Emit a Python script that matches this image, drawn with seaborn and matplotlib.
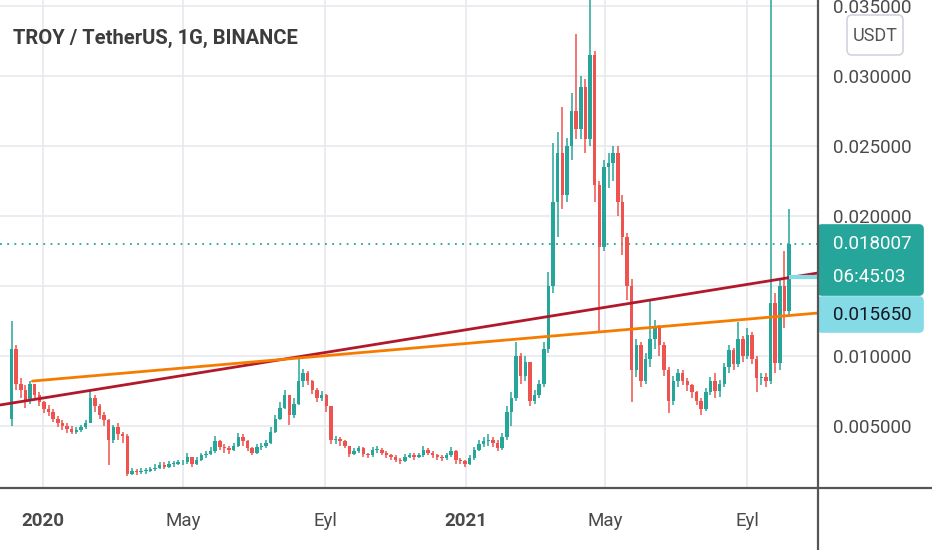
import pandas as pd
import numpy as np
import matplotlib
matplotlib.use("Agg")
import matplotlib.pyplot as plt
import matplotlib.dates as mdates
from matplotlib.patches import FancyBboxPatch
from matplotlib.lines import Line2D
import seaborn as sns

# --- data (4-day candles) ---
title = "TROY / TetherUS, 1G, BINANCE"
first_open = 0.0055
start_day = "2019-12-05"
candle_days = 4

closes = [
    0.0105, 0.0080, 0.0076, 0.0068, 0.0080, 0.0072, 0.0067, 0.0062, 0.0060, 0.0055,
    0.0052, 0.0050, 0.0048, 0.0046, 0.0047, 0.0049, 0.0052, 0.0070, 0.0064, 0.0058,
    0.0054, 0.0040, 0.0049, 0.0044, 0.0043, 0.0016, 0.0018, 0.0017, 0.0018, 0.0018,
    0.0019, 0.0020, 0.0022, 0.0021, 0.0023, 0.0023, 0.0024, 0.0024, 0.0028, 0.0023,
    0.0026, 0.0029, 0.0030, 0.0032, 0.0039, 0.0035, 0.0034, 0.0033, 0.0036, 0.0042,
    0.0039, 0.0034, 0.0031, 0.0035, 0.0036, 0.0038, 0.0046, 0.0055, 0.0063, 0.0072,
    0.0058, 0.0066, 0.0082, 0.0088, 0.0082, 0.0076, 0.0070, 0.0072, 0.0064, 0.0040,
    0.0041, 0.0039, 0.0036, 0.0030, 0.0032, 0.0034, 0.0030, 0.0029, 0.0033, 0.0033,
    0.0031, 0.0029, 0.0028, 0.0026, 0.0025, 0.0028, 0.0029, 0.0028, 0.0029, 0.0033,
    0.0031, 0.0029, 0.0028, 0.0027, 0.0029, 0.0032, 0.0026, 0.0025, 0.0023, 0.0027,
    0.0033, 0.0037, 0.0039, 0.0040, 0.0038, 0.0034, 0.0042, 0.0060, 0.0070, 0.0100,
    0.0086, 0.0096, 0.0068, 0.0072, 0.0080, 0.0105, 0.0150, 0.0210, 0.0245, 0.0215,
    0.0250, 0.0275, 0.0262, 0.0292, 0.0255, 0.0315, 0.0222, 0.0178, 0.0235, 0.0238,
    0.0245, 0.0210, 0.0185, 0.0150, 0.0090, 0.0108, 0.0082, 0.0098, 0.0112, 0.0120,
    0.0108, 0.0090, 0.0068, 0.0082, 0.0088, 0.0082, 0.0079, 0.0074, 0.0068, 0.0062,
    0.0074, 0.0082, 0.0075, 0.0080, 0.0092, 0.0104, 0.0094, 0.0112, 0.0100, 0.0115,
    0.0098, 0.0084, 0.0085, 0.0082, 0.0138, 0.0095, 0.0150, 0.0132, 0.018007,
]
highs = [
    0.0125, 0.0108, 0.0084, 0.0079, 0.0082, 0.0080, 0.0074, 0.0068, 0.0065, 0.0062,
    0.0057, 0.0054, 0.0052, 0.0050, 0.0049, 0.0051, 0.0054, 0.0075, 0.0072, 0.0066,
    0.0060, 0.0055, 0.0051, 0.0052, 0.0046, 0.0044, 0.0020, 0.0019, 0.0020, 0.0020,
    0.0021, 0.0023, 0.0024, 0.0024, 0.0025, 0.0025, 0.0026, 0.0026, 0.0031, 0.0028,
    0.0028, 0.0031, 0.0032, 0.0035, 0.0043, 0.0040, 0.0037, 0.0036, 0.0038, 0.0045,
    0.0044, 0.0040, 0.0035, 0.0037, 0.0038, 0.0040, 0.0049, 0.0058, 0.0067, 0.0076,
    0.0072, 0.0070, 0.0099, 0.0091, 0.0089, 0.0083, 0.0077, 0.0075, 0.0073, 0.0064,
    0.0043, 0.0042, 0.0040, 0.0036, 0.0034, 0.0036, 0.0035, 0.0031, 0.0035, 0.0036,
    0.0034, 0.0032, 0.0030, 0.0029, 0.0027, 0.0030, 0.0031, 0.0031, 0.0031, 0.0036,
    0.0034, 0.0032, 0.0030, 0.0029, 0.0031, 0.0035, 0.0033, 0.0027, 0.0026, 0.0029,
    0.0035, 0.0040, 0.0042, 0.0044, 0.0042, 0.0040, 0.0045, 0.0064, 0.0074, 0.0110,
    0.0102, 0.0100, 0.0095, 0.0076, 0.0083, 0.0110, 0.0160, 0.0252, 0.0260, 0.0278,
    0.0256, 0.0288, 0.0330, 0.0300, 0.0298, 0.0400, 0.0318, 0.0225, 0.0240, 0.0245,
    0.0250, 0.0250, 0.0215, 0.0188, 0.0155, 0.0112, 0.0110, 0.0102, 0.0139, 0.0126,
    0.0122, 0.0110, 0.0092, 0.0086, 0.0091, 0.0090, 0.0084, 0.0080, 0.0075, 0.0070,
    0.0077, 0.0085, 0.0088, 0.0083, 0.0095, 0.0108, 0.0106, 0.0124, 0.0114, 0.0120,
    0.0117, 0.0100, 0.0088, 0.0088, 0.0400, 0.0145, 0.0155, 0.0175, 0.0205,
]
lows = [
    0.0050, 0.0076, 0.0070, 0.0063, 0.0066, 0.0070, 0.0064, 0.0059, 0.0057, 0.0053,
    0.0049, 0.0047, 0.0045, 0.0044, 0.0044, 0.0046, 0.0048, 0.0052, 0.0060, 0.0055,
    0.0050, 0.0022, 0.0038, 0.0040, 0.0038, 0.0014, 0.0015, 0.0015, 0.0016, 0.0016,
    0.0017, 0.0018, 0.0019, 0.0019, 0.0020, 0.0021, 0.0022, 0.0022, 0.0023, 0.0021,
    0.0022, 0.0025, 0.0027, 0.0029, 0.0031, 0.0033, 0.0031, 0.0030, 0.0032, 0.0035,
    0.0036, 0.0032, 0.0029, 0.0030, 0.0033, 0.0034, 0.0037, 0.0045, 0.0054, 0.0062,
    0.0051, 0.0056, 0.0065, 0.0078, 0.0079, 0.0073, 0.0067, 0.0068, 0.0060, 0.0037,
    0.0037, 0.0036, 0.0034, 0.0028, 0.0029, 0.0031, 0.0028, 0.0027, 0.0028, 0.0031,
    0.0029, 0.0027, 0.0026, 0.0024, 0.0023, 0.0024, 0.0027, 0.0026, 0.0027, 0.0028,
    0.0029, 0.0027, 0.0026, 0.0025, 0.0026, 0.0028, 0.0023, 0.0023, 0.0021, 0.0022,
    0.0026, 0.0032, 0.0035, 0.0036, 0.0035, 0.0032, 0.0033, 0.0040, 0.0050, 0.0068,
    0.0080, 0.0082, 0.0064, 0.0066, 0.0070, 0.0078, 0.0102, 0.0145, 0.0185, 0.0205,
    0.0210, 0.0240, 0.0255, 0.0255, 0.0245, 0.0250, 0.0210, 0.0118, 0.0175, 0.0220,
    0.0225, 0.0200, 0.0172, 0.0140, 0.0067, 0.0085, 0.0078, 0.0080, 0.0092, 0.0105,
    0.0100, 0.0086, 0.0059, 0.0065, 0.0078, 0.0079, 0.0075, 0.0070, 0.0065, 0.0058,
    0.0061, 0.0072, 0.0070, 0.0071, 0.0078, 0.0088, 0.0090, 0.0092, 0.0096, 0.0098,
    0.0094, 0.0074, 0.0079, 0.0078, 0.0080, 0.0088, 0.0090, 0.0120, 0.0128,
]

# drawn trend lines (two anchor points each)
red_trend_dates = ["2019-11-25", "2021-11-01"]
red_trend_values = [0.0065, 0.01593]
orange_trend_dates = ["2019-12-23", "2021-11-01"]
orange_trend_values = [0.00821, 0.01307]

last_price = 0.018007
countdown = "06:45:03"
ray_price = 0.01565

price_ticks = [0.005, 0.010, 0.015, 0.020, 0.025, 0.030, 0.035]
price_labels = ["0.005000", "0.010000", "", "0.020000", "0.025000", "0.030000", "0.035000"]
month_ticks = ["2020-01-01", "2020-05-01", "2020-09-01", "2021-01-01", "2021-05-01", "2021-09-01"]
month_labels = ["2020", "May", "Eyl", "2021", "May", "Eyl"]

UP = "#26a69a"
DOWN = "#ef5350"
TXT = "#4a4a4a"

sns.set_theme(style="white")
plt.rcParams["font.family"] = ["Roboto", "DejaVu Sans"]

W, H = 932, 550
fig = plt.figure(figsize=(W / 100, H / 100), dpi=100)
ax = fig.add_axes([0, 62 / H, 818 / W, 488 / H])

df = pd.DataFrame({
    "date": pd.date_range(start_day, periods=len(closes), freq=f"{candle_days}D"),
    "close": closes, "high": highs, "low": lows,
})
df["open"] = [first_open] + closes[:-1]
df["x"] = mdates.date2num(df["date"])
df["high"] = df[["high", "open", "close"]].max(axis=1)
df["low"] = df[["low", "open", "close"]].min(axis=1)
up = df["close"] >= df["open"]
cols = np.where(up, UP, DOWN)

ax.vlines(df["x"], df["low"], df["high"], colors=cols, lw=1.1, zorder=3)
body = (df["close"] - df["open"]).abs().clip(lower=0.00006)
ax.bar(df["x"], body, bottom=df[["open", "close"]].min(axis=1), width=3.0,
       color=cols, linewidth=0, zorder=3)

# trend lines
sns.lineplot(x=mdates.date2num(pd.to_datetime(red_trend_dates)), y=red_trend_values,
             color="#b2182b", lw=2, ax=ax, zorder=4)
sns.lineplot(x=mdates.date2num(pd.to_datetime(orange_trend_dates)), y=orange_trend_values,
             color="#f57c00", lw=2, ax=ax, zorder=4)

xlim = mdates.date2num(pd.to_datetime(["2019-11-25", "2021-11-01"]))
ax.axhline(last_price, ls=(0, (1, 3)), color=UP, lw=1.3, zorder=2)
ax.hlines(ray_price, df["x"].iloc[-1], xlim[1], color="#84dbe6", lw=3, zorder=5)

ax.set_xlim(*xlim)
ax.set_ylim(0.00057, 0.03543)

ax.yaxis.tick_right()
ax.set_yticks(price_ticks)
ax.set_yticklabels(price_labels)
ax.tick_params(axis="y", length=0, pad=11, labelsize=13.5, labelcolor=TXT)
ax.set_xticks(mdates.date2num(pd.to_datetime(month_ticks)))
ax.set_xticklabels(month_labels)
ax.tick_params(axis="x", length=0, pad=17, labelsize=13.5, labelcolor=TXT)
for lbl in ax.get_xticklabels():
    if lbl.get_text() in ("2020", "2021"):
        lbl.set_fontweight("bold")
ax.grid(True, color="#e6e9ee", lw=1.2)
ax.set_axisbelow(True)
ax.set_xlabel("")
ax.set_ylabel("")
for s in ax.spines.values():
    s.set_visible(False)

# panel separators
fig.add_artist(Line2D([0, 1], [62 / H, 62 / H], transform=fig.transFigure, color="#555555", lw=1.6))
fig.add_artist(Line2D([818 / W, 818 / W], [0, 1], transform=fig.transFigure, color="#555555", lw=1.6))


def px_box(x0, y0, x1, y1, face, edge, r):
    # pixel coords from top-left -> inches
    return FancyBboxPatch((x0 / 100, (H - y1) / 100), (x1 - x0) / 100, (y1 - y0) / 100,
                          boxstyle=f"round,pad=0,rounding_size={r / 100}",
                          transform=fig.dpi_scale_trans, facecolor=face, edgecolor=edge, lw=1.2)


def px_text(x, y, s, **kw):
    fig.text(x / W, 1 - y / H, s, va="center", **kw)


fig.add_artist(px_box(847, 15, 903, 55, "white", "#d1d4dc", 5))
px_text(875, 36, "USDT", ha="center", fontsize=13, color="#555555")

fig.add_artist(px_box(818, 225, 923, 295, UP, UP, 4))
px_text(833, 244, f"{last_price:.6f}", ha="left", fontsize=13.5, color="white")
px_text(833, 277, countdown, ha="left", fontsize=13.5, color="white")

fig.add_artist(px_box(818, 297, 923, 332, "#84dbe6", "#84dbe6", 4))
px_text(833, 315, f"{ray_price:.6f}", ha="left", fontsize=13.5, color="#131722")

px_text(13, 38, title, ha="left", fontsize=14.5, fontweight="bold", color="#3c3c3c")

fig.savefig("out.png", dpi=100)
